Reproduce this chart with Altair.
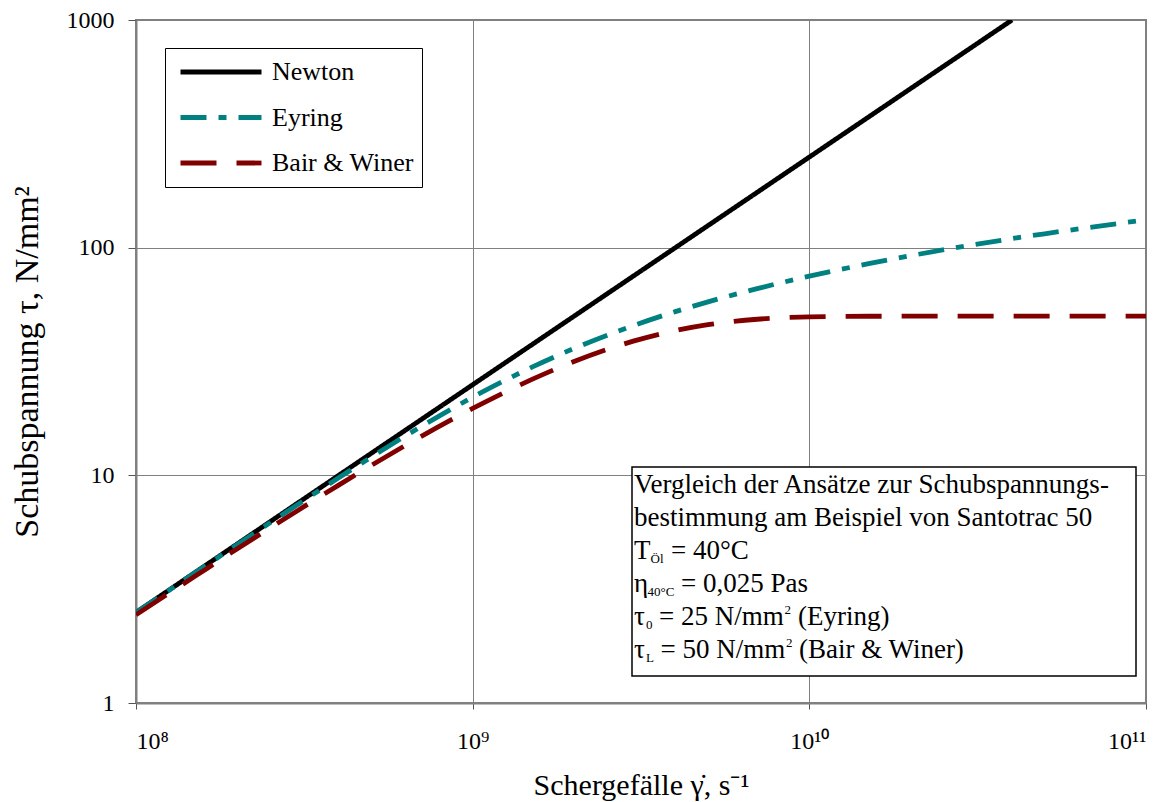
import json
import altair as alt
import pandas as pd

# ---- data ----
gamma = [1e8, 1.5e8, 2e8, 3e8, 4e8, 5e8, 7e8, 1e9, 1.5e9, 2e9, 3e9, 4e9, 5e9, 7e9,
         1e10, 1.5e10, 2e10, 3e10, 4e10, 5e10, 7e10, 1e11]
newton_gamma = gamma[:19]
newton_tau = [2.5, 3.75, 5, 7.5, 10, 12.5, 17.5, 25, 37.5, 50, 75, 100, 125, 175,
              250, 375, 500, 750, 1000]
eyring_tau = [2.50, 3.74, 4.97, 7.39, 9.75, 12.03, 16.32, 22.03, 29.87, 36.09, 45.46,
              52.37, 57.81, 66.10, 74.95, 85.05, 92.22, 102.4, 109.6, 115.1, 123.5, 132.5]
bair_tau = [2.44, 3.61, 4.76, 6.96, 9.06, 11.06, 14.77, 19.67, 26.38, 31.61, 38.84,
            43.23, 45.90, 48.49, 49.66, 49.97, 50.0, 50.0, 50.0, 50.0, 50.0, 50.0]

series_names = ["Newton", "Eyring", "Bair & Winer"]
series_colors = ["#000000", "#008080", "#800000"]
series_dash = [[1, 0], [26, 12, 8, 12], [36, 20]]

x_ticks = [1e8, 1e9, 1e10, 1e11]
x_tick_labels = ["10⁸", "10⁹", "10¹⁰", "10¹¹"]
y_ticks = [1, 10, 100, 1000]
y_tick_labels = ["1", "10", "100", "1000"]

x_title = "Schergefälle γ̇, s⁻¹"
y_title = "Schubspannung τ, N/mm²"

# annotation text segments: (text, x, y, fontSize) in pixels of the plot area
annot_segments = [
    ("Vergleich der Ansätze zur Schubspannungs-", 498, 473, 27),
    ("bestimmung am Beispiel von Santotrac 50", 498, 506, 27),
    ("T", 498, 539, 27), ("Öl", 514.5, 543, 13), ("= 40°C", 535, 539, 27),
    ("η", 498, 572, 27), ("40°C", 511.5, 576, 13), ("= 0,025 Pas", 545, 572, 27),
    ("τ", 498, 605, 27), ("0", 510, 609, 13), ("= 25 N/mm", 523, 605, 27),
    ("2", 648.5, 594, 13), ("(Eyring)", 662, 605, 27),
    ("τ", 498, 638, 27), ("L", 510, 642, 13), ("= 50 N/mm", 524.5, 638, 27),
    ("2", 650, 627, 13), ("(Bair & Winer)", 663, 638, 27),
]

FONT = "Liberation Serif"

rows = []
for g, t in zip(newton_gamma, newton_tau):
    rows.append({"gamma": g, "tau": t, "series": "Newton"})
for g, t in zip(gamma, eyring_tau):
    rows.append({"gamma": g, "tau": t, "series": "Eyring"})
for g, t in zip(gamma, bair_tau):
    rows.append({"gamma": g, "tau": t, "series": "Bair & Winer"})
df = pd.DataFrame(rows)

x_label_expr = json.dumps(x_tick_labels, ensure_ascii=False) + "[round(log(datum.value)/LN10) - 8]"
y_label_expr = json.dumps(y_tick_labels, ensure_ascii=False) + "[round(log(datum.value)/LN10)]"

legend = alt.Legend(
    title=None, orient="none", legendX=29, legendY=28, direction="vertical",
    symbolType="stroke", symbolSize=6561, symbolStrokeWidth=4.8, symbolOffset=5,
    labelFont=FONT, labelFontSize=26, labelColor="black", labelOffset=8, labelLimit=400,
    fillColor="white", strokeColor="black", padding=8, rowPadding=13.5, clipHeight=32,
)

lines = alt.Chart(df).mark_line(strokeWidth=4.8, interpolate="monotone", clip=True).encode(
    x=alt.X("gamma:Q",
            scale=alt.Scale(type="log", domain=[1e8, 1e11], nice=False),
            axis=alt.Axis(values=x_ticks, labelExpr=x_label_expr, title=x_title,
                          tickSize=6, labelPadding=20, titlePadding=17,
                          labelFontSize=24, titleFontSize=30)),
    y=alt.Y("tau:Q",
            scale=alt.Scale(type="log", domain=[1, 1000], nice=False),
            axis=alt.Axis(values=y_ticks, labelExpr=y_label_expr, title=y_title,
                          tickSize=8, labelPadding=14, titlePadding=22,
                          labelFontSize=24, titleFontSize=34)),
    color=alt.Color("series:N", scale=alt.Scale(domain=series_names, range=series_colors),
                    legend=legend),
    strokeDash=alt.StrokeDash("series:N", scale=alt.Scale(domain=series_names, range=series_dash),
                              legend=legend),
)

box = alt.Chart(alt.Data(values=[{"a": 1}])).mark_rect(
    fill="white", stroke="black", strokeWidth=1.5
).encode(x=alt.value(496), x2=alt.value(1000), y=alt.value(447), y2=alt.value(656))

texts = []
for txt, px, py, fs in annot_segments:
    texts.append(
        alt.Chart(alt.Data(values=[{"a": 1}])).mark_text(
            font=FONT, fontSize=fs, align="left", baseline="alphabetic", color="black"
        ).encode(x=alt.value(px), y=alt.value(py), text=alt.value(txt))
    )

chart = alt.layer(lines, box, *texts).properties(
    width=1010, height=683,
    autosize=alt.AutoSizeParams(type="none"),
    padding={"left": 128, "top": 12, "right": 18, "bottom": 99},
    background="white",
).configure_view(
    stroke="#808080", strokeWidth=2
).configure_axis(
    labelFont=FONT, titleFont=FONT, labelColor="black", titleColor="black",
    titleFontWeight="normal", grid=True, gridColor="#808080", gridWidth=1,
    domainColor="#808080", domainWidth=2, tickColor="#555555", tickWidth=1,
)

chart.save("out.html", embed_options={"renderer": "svg", "actions": False})
